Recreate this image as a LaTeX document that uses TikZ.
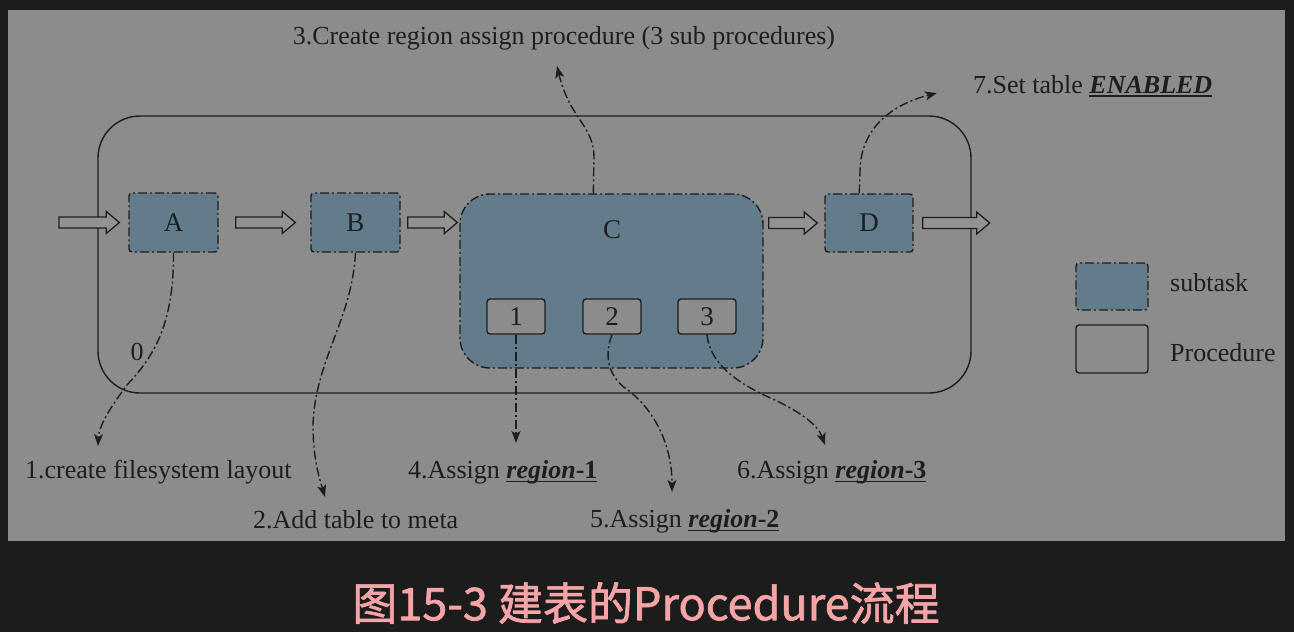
\documentclass[tikz,border=0pt]{standalone}
\usepackage{fontspec}
\setmainfont{Liberation Serif}
\newfontfamily\cjk{Noto Sans CJK SC}[FakeBold=1.5]
\usetikzlibrary{arrows.meta,calc}
\definecolor{bgdark}{HTML}{1C1C1C}
\definecolor{panel}{HTML}{8C8C8C}
\definecolor{subfill}{HTML}{637C8B}
\definecolor{ink}{HTML}{1E1E1E}
\definecolor{capink}{HTML}{F5A4A7}
\definecolor{arrfill}{HTML}{929292}
\newcommand\myul[1]{\setbox0\hbox{#1}\rlap{\copy0}\rule[-4pt]{\wd0}{1.6pt}}
\newcommand\harrow[2]{\draw[hollow] let \p1=#1, \p2=#2 in
  (\x1,\y1+5.5pt) -- (\x2-13pt,\y1+5.5pt) -- (\x2-13pt,\y1+11pt) -- (\x2,\y1)
  -- (\x2-13pt,\y1-11pt) -- (\x2-13pt,\y1-5.5pt) -- (\x1,\y1-5.5pt) -- cycle;}
\tikzset{
  dashdot/.style={dash pattern=on 9pt off 3pt on 2pt off 3pt},
  sub/.style={draw=ink, fill=subfill, line width=1.4pt, dashdot, rounded corners=3pt,
    inner sep=0pt, text=ink, font=\fontsize{27}{30}\selectfont},
  proc/.style={draw=ink, fill=panel, line width=1.4pt, rounded corners=3pt,
    inner sep=0pt, text=ink, font=\fontsize{27}{30}\selectfont},
  conn/.style={draw=ink, line width=1.4pt, dashdot,
    -{Stealth[length=12pt,width=9pt,inset=3pt]}},
  lbl/.style={inner sep=0pt, text=ink, font=\fontsize{26}{30}\selectfont},
  hollow/.style={draw=ink, fill=arrfill, line width=1.3pt, line join=miter}
}
\begin{document}
\begin{tikzpicture}[x=1pt,y=-1pt,line join=round]
\useasboundingbox (0,0) rectangle (1294,632);
\fill[bgdark] (0,0) rectangle (1294,632);
\fill[panel] (8,10) rectangle (1285,541);

% outer procedure
\node[draw=ink, line width=1.4pt, rounded corners=42pt, minimum width=873pt,
  minimum height=277pt, inner sep=0pt] (outer) at (534.5,254.5) {};

% subtasks
\node[sub, minimum width=89pt, minimum height=59pt] (A) at (173.5,222.5) {A};
\node[sub, minimum width=89pt, minimum height=59pt] (B) at (355.5,222.5) {B};
\node[sub, rounded corners=30pt, minimum width=303pt, minimum height=174pt] (C) at (611.5,281) {};
\node[lbl, font=\fontsize{27}{30}\selectfont] (Clbl) at (612,230) {C};
\node[sub, minimum width=88pt, minimum height=58pt] (D) at (869,223) {D};

% inner procedures
\node[proc, minimum width=58pt, minimum height=35pt] (p1) at (516,316.5) {1};
\node[proc, minimum width=58pt, minimum height=35pt] (p2) at (612,316.5) {2};
\node[proc, minimum width=58pt, minimum height=35pt] (p3) at (707,316.5) {3};

% hollow flow arrows
\coordinate (in) at (59,222.5);
\harrow{(in)}{($(A.west)+(-9,0)$)}
\harrow{($(A.east)+(17,0)$)}{($(B.west)+(-15,0)$)}
\harrow{($(B.east)+(7,0)$)}{($(C.west |- A.west)+(-2,0)$)}
\harrow{($(C.east |- D.east)+(5,0)$)}{($(D.west)+(-7,0)$)}
\harrow{($(D.east)+(9,0)$)}{($(D.east)+(76,0)$)}

% labels
\node[lbl] (t0) at (137,352) {0};
\node[lbl, anchor=west] (t1) at (25,472) {1.create filesystem layout};
\node[lbl, anchor=west] (t2) at (253,520) {2.Add table to meta};
\node[lbl] (t3) at (564,38) {3.Create region assign procedure (3 sub procedures)};
\node[lbl, anchor=west] (t4) at (408,472) {4.Assign \myul{\textbf{\textit{region}}\textbf{-1}}};
\node[lbl, anchor=west] (t5) at (590,521) {5.Assign \myul{\textbf{\textit{region}}\textbf{-2}}};
\node[lbl, anchor=west] (t6) at (737,472) {6.Assign \myul{\textbf{\textit{region}}\textbf{-3}}};
\node[lbl, anchor=west] (t7) at (973,86) {7.Set table \myul{\textbf{\textit{ENABLED}}}};

% connector ends
\coordinate (e1) at (98,446);
\coordinate (e2) at (325,497);
\coordinate (s3) at ($(C.north west)+(134,0)$);
\coordinate (e3) at (557,66);
\coordinate (e4) at (516,443);
\coordinate (e5) at (672,492);
\coordinate (e6) at (825,445);
\coordinate (s7) at ($(D.north west)+(35,0)$);
\coordinate (e7) at (937,93);

% connectors
\draw[conn] (A.south) .. controls (174,330) and (150,360) .. (127,385)
  .. controls (112,405) and (99,425) .. (e1);
\draw[conn] (B.south) .. controls (352,320) and (315,360) .. (313,425)
  .. controls (313,460) and (320,480) .. (e2);
\draw[conn] (s3) -- (594,158) .. controls (594,125) and (570,120) .. (e3);
\draw[conn] (p1.south) -- (e4);
\draw[conn] (p2.south) .. controls (604,355) and (608,375) .. (625,388)
  .. controls (650,405) and (672,440) .. (e5);
\draw[conn] (p3.south) .. controls (710,365) and (740,385) .. (775,400)
  .. controls (800,412) and (818,425) .. (e6);
\draw[conn] (s7) -- (860,172) .. controls (860,130) and (890,105) .. (e7);

% legend
\node[sub, minimum width=72pt, minimum height=47pt] (legS) at (1112,286.5) {};
\node[proc, minimum width=72pt, minimum height=48pt] (legP) at (1112,349) {};
\node[lbl, anchor=west] (legSt) at (1170,283) {subtask};
\node[lbl, anchor=west] (legPt) at (1170,353) {Procedure};

% caption
\node[inner sep=0pt, text=capink, font=\cjk\fontsize{45}{48}\selectfont] (cap) at (646,603) {图15-3 建表的Procedure流程};
\end{tikzpicture}
\end{document}
